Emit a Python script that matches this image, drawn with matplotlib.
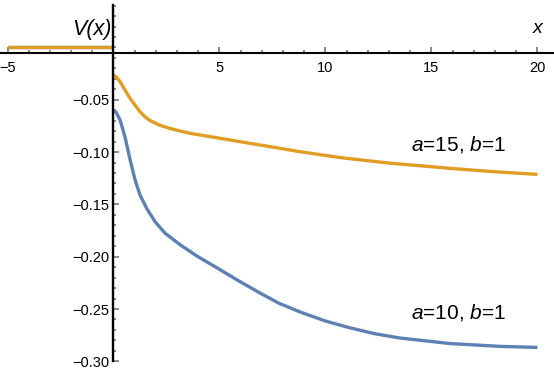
import numpy as np
import matplotlib
matplotlib.use('Agg')
import matplotlib.pyplot as plt

plt.rcParams['font.family'] = ['Liberation Sans', 'DejaVu Sans']
plt.rcParams['mathtext.fontset'] = 'custom'
plt.rcParams['mathtext.rm'] = 'Liberation Sans'
plt.rcParams['mathtext.it'] = 'Liberation Sans:italic'

# values
x_neg = [-5.0, 0.0]
v_neg = [0.0, 0.0]

x_a15 = [0.0, 0.12, 0.31, 0.54, 0.78, 1.01, 1.25, 1.5, 1.72, 2.19, 2.67, 3.14,
         3.61, 5.02, 6.91, 8.80, 10.68, 13.0, 15.87, 18.0, 20.0]
v_a15 = [-0.0265, -0.0279, -0.0327, -0.0406, -0.0486, -0.0550, -0.0614, -0.0665,
         -0.0698, -0.0744, -0.0774, -0.0798, -0.0820, -0.0868, -0.0932, -0.0996,
         -0.1052, -0.1105, -0.1155, -0.1188, -0.1213]

x_a10 = [0.0, 0.12, 0.31, 0.54, 0.78, 1.01, 1.25, 1.57, 1.96, 2.43, 3.14, 3.92,
         4.87, 5.9, 6.91, 7.8, 8.80, 10.0, 11.16, 12.3, 13.51, 15.87, 18.23, 20.0]
v_a10 = [-0.0600, -0.0618, -0.0693, -0.0853, -0.1070, -0.1260, -0.1410, -0.1540,
         -0.1665, -0.1775, -0.1885, -0.1992, -0.2105, -0.2230, -0.2347, -0.2444,
         -0.2528, -0.2615, -0.2680, -0.2735, -0.2777, -0.2830, -0.2857, -0.2867]

x_major = [-5, 5, 10, 15, 20]
x_minor = list(range(-5, 21))
y_major = [-0.30, -0.25, -0.20, -0.15, -0.10, -0.05]
y_minor = [round(-0.30 + 0.01 * i, 2) for i in range(35)]

blue = '#5E81B5'
orange = '#E19C24'

fig = plt.figure(figsize=(5.54, 3.81), dpi=100)
ax = fig.add_axes([0, 0, 1, 1])

ax.plot(x_neg, v_neg, color=blue, lw=2.4, solid_capstyle='butt')
ax.plot(x_a10, v_a10, color=blue, lw=2.4, solid_capstyle='butt')
ax.plot(x_neg, v_neg, color=orange, lw=2.4, solid_capstyle='butt')
ax.plot(x_a15, v_a15, color=orange, lw=2.4, solid_capstyle='butt')

ax.set_xlim(-5.354, 20.78)
ax.set_ylim(-0.3188, 0.0454)

ax.spines['top'].set_visible(False)
ax.spines['right'].set_visible(False)
ax.spines['left'].set_position(('data', 0))
ax.spines['bottom'].set_position(('data', -0.005))
ax.spines['left'].set_bounds(-0.30, 0.041)
ax.spines['left'].set_linewidth(1.7)
ax.spines['bottom'].set_linewidth(1.5)

ax.set_xticks(x_major)
ax.set_xticklabels([f'{v:d}'.replace('-', '\u2212') for v in x_major])
ax.set_xticks(x_minor, minor=True)
ax.set_yticks(y_major)
ax.set_yticklabels([f'{v:.2f}'.replace('-', '\u2212') for v in y_major])
ax.set_yticks(y_minor, minor=True)

ax.tick_params(which='both', direction='in', color='#777777', width=1.2,
               labelsize=10.5, labelcolor='black')
ax.tick_params(axis='x', which='major', length=4, pad=6)
ax.tick_params(axis='x', which='minor', length=2)
ax.tick_params(axis='y', which='major', length=4, pad=3)
ax.tick_params(axis='y', which='minor', length=2.5)

ax.text(-0.094, 0.0119, 'V(x)', fontsize=15.5, fontstyle='italic',
        ha='right', va='baseline')
ax.text(20.02, 0.0136, 'x', fontsize=14, fontstyle='italic',
        ha='center', va='baseline')
ax.text(14.05, -0.098, r'$a$=15, $b$=1', fontsize=15, ha='left', va='baseline')
ax.text(14.05, -0.2586, r'$a$=10, $b$=1', fontsize=15, ha='left', va='baseline')

fig.savefig('out.png', dpi=100)
